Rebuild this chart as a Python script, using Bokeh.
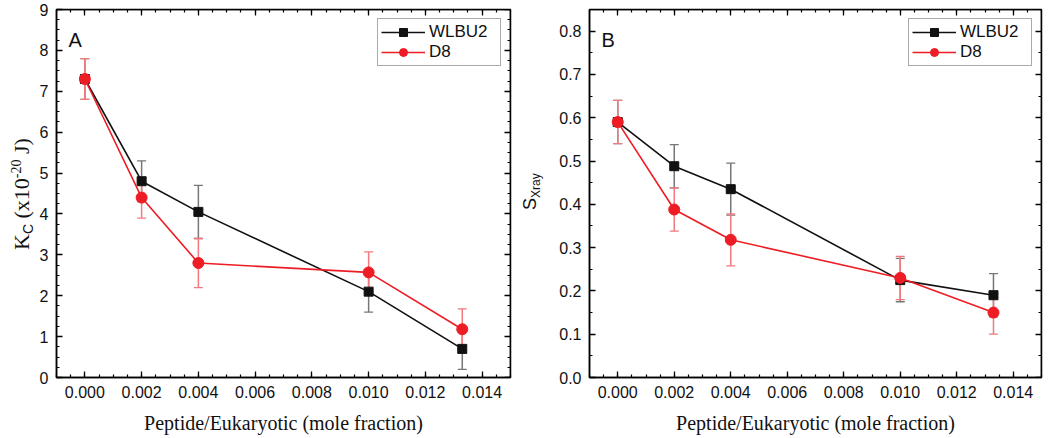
import numpy as np
from bokeh.plotting import figure
from bokeh.models import (ColumnDataSource, Range1d, FixedTicker, LinearAxis, Whisker,
                          TeeHead, Label, Legend, LegendItem, PrintfTickFormatter,
                          CustomJSTickFormatter, Div)
from bokeh.layouts import row
from bokeh.embed import file_html
from bokeh.resources import INLINE

# ---------------- data ----------------
x_frac = [0.0, 0.002, 0.004, 0.010, 0.0133]

kc_wlbu2 = [7.3, 4.8, 4.05, 2.1, 0.7]
kc_wlbu2_err = [0.5, 0.5, 0.65, 0.5, 0.5]
kc_d8 = [7.3, 4.4, 2.8, 2.57, 1.18]
kc_d8_err = [0.5, 0.5, 0.6, 0.5, 0.5]

s_wlbu2 = [0.59, 0.488, 0.435, 0.225, 0.19]
s_wlbu2_err = [0.05, 0.05, 0.06, 0.05, 0.05]
s_d8 = [0.59, 0.388, 0.318, 0.23, 0.15]
s_d8_err = [0.05, 0.05, 0.06, 0.05, 0.05]

x_major = [0.0, 0.002, 0.004, 0.006, 0.008, 0.010, 0.012, 0.014]
kc_major = [0, 1, 2, 3, 4, 5, 6, 7, 8, 9]
s_major = [0.0, 0.1, 0.2, 0.3, 0.4, 0.5, 0.6, 0.7, 0.8]

x_title = "Peptide/Eukaryotic (mole fraction)"
series_names = ["WLBU2", "D8"]

BLACK = "#111111"
RED = "#ee1c24"
SANS = "Liberation Sans"
SERIF = "Liberation Serif"
H = 438
TOP = 9        # frame top border
BOTTOM = 61    # frame bottom border
X_LO, X_HI = -0.001, 0.015

x_minor = list(np.round(np.arange(-0.001, 0.01501, 0.0005), 5))
kc_minor = list(np.round(np.arange(0, 9.01, 0.25), 3))
s_minor = list(np.round(np.arange(0, 0.851, 0.05), 3))


def style_axis(ax, show_labels=True):
    ax.axis_line_width = 1.5
    ax.axis_line_color = "black"
    ax.major_tick_in = 6
    ax.major_tick_out = 0
    ax.minor_tick_in = 3
    ax.minor_tick_out = 0
    ax.major_tick_line_width = 1.3
    ax.minor_tick_line_width = 1.2
    ax.major_tick_line_color = "black"
    ax.minor_tick_line_color = "black"
    if show_labels:
        ax.major_label_text_font = SANS
        ax.major_label_text_font_size = "16px"
        ax.major_label_text_color = "#111111"
        ax.major_label_standoff = 8
    else:
        ax.formatter = CustomJSTickFormatter(code="return ''")
        ax.major_label_text_font_size = "0px"
        ax.major_label_standoff = 0
        ax.axis_label_standoff = 0


def make_panel(width, border_left, border_right, y_lo, y_hi, y_major, y_minor, y_fmt,
               y1, y1e, y2, y2e, letter):
    p = figure(width=width, height=H, output_backend="svg", toolbar_location=None,
               x_range=Range1d(X_LO, X_HI), y_range=Range1d(y_lo, y_hi),
               min_border_left=border_left, min_border_right=border_right,
               min_border_top=TOP, min_border_bottom=BOTTOM)
    p.grid.visible = False
    p.outline_line_color = "black"
    p.outline_line_width = 1.5
    p.background_fill_color = "white"
    p.border_fill_color = "white"

    p.xaxis.ticker = FixedTicker(ticks=x_major, minor_ticks=x_minor)
    p.yaxis.ticker = FixedTicker(ticks=y_major, minor_ticks=y_minor)
    p.xaxis.formatter = PrintfTickFormatter(format="%.3f")
    p.yaxis.formatter = PrintfTickFormatter(format=y_fmt)
    style_axis(p.xaxis[0])
    style_axis(p.yaxis[0])
    p.xaxis.axis_label = x_title
    p.xaxis.axis_label_text_font = SERIF
    p.xaxis.axis_label_text_font_size = "20px"
    p.xaxis.axis_label_text_font_style = "normal"
    p.xaxis.axis_label_text_color = "#111111"
    p.xaxis.axis_label_standoff = 11

    # mirrored tick-only axes, pinned to the frame edges
    top = LinearAxis(ticker=FixedTicker(ticks=x_major, minor_ticks=x_minor),
                     fixed_location=y_hi)
    style_axis(top, show_labels=False)
    p.add_layout(top, "above")
    right = LinearAxis(ticker=FixedTicker(ticks=y_major, minor_ticks=y_minor),
                       fixed_location=X_HI)
    style_axis(right, show_labels=False)
    p.add_layout(right, "right")

    src1 = ColumnDataSource(dict(x=x_frac, y=y1, lo=[a - b for a, b in zip(y1, y1e)],
                                 hi=[a + b for a, b in zip(y1, y1e)]))
    src2 = ColumnDataSource(dict(x=x_frac, y=y2, lo=[a - b for a, b in zip(y2, y2e)],
                                 hi=[a + b for a, b in zip(y2, y2e)]))

    w1 = Whisker(source=src1, base="x", lower="lo", upper="hi",
                 line_color="#777777", line_width=1.5,
                 upper_head=TeeHead(size=9, line_color="#777777", line_width=1.3),
                 lower_head=TeeHead(size=9, line_color="#777777", line_width=1.3))
    p.add_layout(w1)
    l1 = p.line("x", "y", source=src1, line_color=BLACK, line_width=1.6)
    m1 = p.scatter("x", "y", source=src1, marker="square", size=9,
                   fill_color=BLACK, line_color=BLACK)

    w2 = Whisker(source=src2, base="x", lower="lo", upper="hi",
                 line_color="#f27a7e", line_width=1.5,
                 upper_head=TeeHead(size=9, line_color="#f27a7e", line_width=1.3),
                 lower_head=TeeHead(size=9, line_color="#f27a7e", line_width=1.3))
    p.add_layout(w2)
    l2 = p.line("x", "y", source=src2, line_color=RED, line_width=1.6)
    m2 = p.scatter("x", "y", source=src2, marker="circle", size=11,
                   fill_color=RED, line_color=RED)

    leg = Legend(items=[LegendItem(label=series_names[0], renderers=[l1, m1]),
                        LegendItem(label=series_names[1], renderers=[l2, m2])],
                 location="top_right", margin=9, padding=3, spacing=0,
                 glyph_width=44, glyph_height=20, label_height=20, label_width=68,
                 label_standoff=4, label_text_font=SANS, label_text_font_size="17px",
                 label_text_color="#111111", border_line_color="#555555",
                 border_line_width=1.2, background_fill_alpha=1.0)
    p.add_layout(leg, "center")

    p.add_layout(Label(x=12, y=H - TOP - BOTTOM - 30, x_units="screen", y_units="screen",
                       text=letter, text_font=SANS, text_font_size="20px",
                       text_baseline="alphabetic", text_color="#111111"))
    return p


def title_div(width, left, top, inner):
    # vertical axis title as real HTML text, rotated to read bottom-to-top
    html = (
        f'<div style="position:relative;width:{width}px;height:{H}px;">'
        f'<div style="position:absolute;left:{left}px;top:{top}px;'
        'transform-origin:0 0;transform:rotate(-90deg);white-space:nowrap;'
        'color:#111111;">' + inner + '</div></div>'
    )
    return Div(text=html, width=width, height=H, margin=0)


kc_title = (
    f'<span style="font-family:\'{SERIF}\';font-size:22px;line-height:25px;">K'
    f'<span style="font-family:\'{SANS}\';font-size:14px;vertical-align:-4px;">C</span>'
    ' (x10'
    f'<span style="font-size:14px;vertical-align:8px;">-20</span>'
    ' J)</span>'
)
s_title = (
    f'<span style="font-family:\'{SANS}\';font-size:18px;line-height:21px;">S'
    f'<span style="font-size:12px;vertical-align:-4px;">Xray</span></span>'
)

t1 = title_div(34, 4, 250, kc_title)
p1 = make_panel(486, 22, 10, 0, 9, kc_major, kc_minor, "%d",
                kc_wlbu2, kc_wlbu2_err, kc_d8, kc_d8_err, "A")
t2 = title_div(25, 0, 210, s_title)
p2 = make_panel(505, 44, 9, 0, 0.85, s_major, s_minor, "%.1f",
                s_wlbu2, s_wlbu2_err, s_d8, s_d8_err, "B")

layout = row(t1, p1, t2, p2)
open("out.html", "w").write(file_html(layout, INLINE))
